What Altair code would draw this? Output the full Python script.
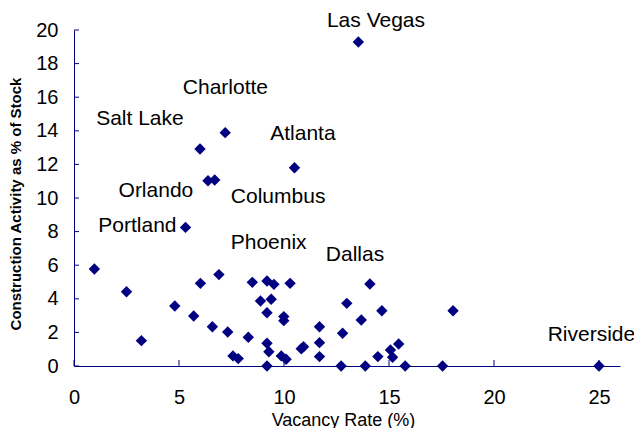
import altair as alt
import pandas as pd

# Scatter data: vacancy rate (%) and construction activity (% of stock)
vacancy = [0.97, 2.50, 3.21, 4.80, 5.70, 6.02, 6.90, 6.59, 7.32, 7.57, 7.82, 8.30,
           8.49, 8.88, 9.19, 9.52, 9.39, 9.19, 9.99, 9.99, 10.29, 9.19, 9.28, 9.19,
           9.87, 10.10, 10.82, 10.93, 11.69, 11.69, 11.69, 12.72, 12.79, 12.99, 13.68,
           14.09, 13.87, 14.47, 14.66, 15.07, 15.17, 15.46, 15.77, 17.55, 18.05, 25.0,
           13.54, 7.20, 6.00, 10.50, 6.38, 6.70, 5.31]
construction = [5.77, 4.42, 1.51, 3.57, 2.98, 4.92, 5.44, 2.34, 2.02, 0.60, 0.44, 1.71,
                4.98, 3.87, 5.06, 4.86, 3.97, 3.17, 2.94, 2.70, 4.92, 1.35, 0.85, 0.0,
                0.60, 0.40, 1.03, 1.15, 2.34, 1.39, 0.56, 0.0, 1.95, 3.73, 2.74,
                4.88, 0.0, 0.56, 3.29, 0.95, 0.52, 1.31, 0.0, 0.0, 3.29, 0.0,
                19.29, 13.89, 12.92, 11.80, 11.03, 11.07, 8.25]

# City labels (anchor positions in data units)
label_names = ["Las Vegas", "Charlotte", "Salt Lake", "Atlanta", "Orlando",
               "Columbus", "Portland", "Phoenix", "Dallas", "Riverside"]
label_x = [14.38, 7.21, 3.14, 10.90, 3.90, 9.72, 3.02, 9.27, 13.38, 24.64]
label_y = [20.20, 16.19, 14.35, 13.45, 10.04, 9.72, 7.99, 6.94, 6.27, 1.51]

x_ticks = [0, 5, 10, 15, 20, 25]
y_ticks = [0, 2, 4, 6, 8, 10, 12, 14, 16, 18, 20]

NAVY = "#000080"
FONT = "Liberation Sans"

pts = pd.DataFrame({"vacancy": vacancy, "construction": construction})
labels = pd.DataFrame({"name": label_names, "lx": label_x, "ly": label_y})
xt = pd.DataFrame({"t": x_ticks})
yt = pd.DataFrame({"t": y_ticks})

xscale = alt.Scale(domain=[0, 26], nice=False, zero=True)
yscale = alt.Scale(domain=[0, 20], nice=False, zero=True)

xaxis = alt.Axis(
    title="Vacancy Rate (%)", values=x_ticks, tickCount=30, format="d",
    labelPadding=21,
    titleFont=FONT, titleFontSize=18, titleFontWeight="normal", titleColor="black",
    titleX=269, titleY=59, titleBaseline="alphabetic", titleAlign="center",
)
yaxis = alt.Axis(
    title="Construction Activity as % of Stock", values=y_ticks, tickCount=30, format="d",
    labelPadding=16,
    titleFont=FONT, titleFontSize=15, titleFontWeight="bold", titleColor="black",
    titleX=-58.5, titleY=173.5, titleBaseline="middle", titleAlign="center",
)

points = alt.Chart(pts).mark_point(
    shape="diamond", filled=True, size=130, color=NAVY, opacity=1
).encode(
    x=alt.X("vacancy:Q", scale=xscale, axis=xaxis),
    y=alt.Y("construction:Q", scale=yscale, axis=yaxis),
)

xtick_layer = alt.Chart(xt).mark_tick(
    orient="vertical", size=6, thickness=1, color=NAVY, yOffset=-3, opacity=1
).encode(x=alt.X("t:Q", scale=xscale, axis=xaxis), y=alt.datum(0))

ytick_layer = alt.Chart(yt).mark_tick(
    orient="horizontal", size=5, thickness=1, color=NAVY, xOffset=2.5, opacity=1
).encode(y=alt.Y("t:Q", scale=yscale, axis=yaxis), x=alt.datum(0))

text_layer = alt.Chart(labels).mark_text(
    font=FONT, fontSize=21, color="black", align="center", baseline="alphabetic"
).encode(
    x=alt.X("lx:Q", scale=xscale, axis=xaxis),
    y=alt.Y("ly:Q", scale=yscale, axis=yaxis),
    text="name:N",
)

chart = alt.layer(points, xtick_layer, ytick_layer, text_layer).properties(
    width=546, height=336,
    padding={"left": 66, "top": 22, "right": 14, "bottom": 62},
    autosize=alt.AutoSizeParams(type="none"),
    background="white",
).configure_view(stroke=None).configure_axis(
    grid=False, ticks=False, domainColor=NAVY, domainWidth=1,
    labelFlush=False, labelOverlap=False, labelBound=False,
    labelFont=FONT, labelFontSize=20, labelColor="black",
)

chart.save("out.html", embed_options={"renderer": "svg", "actions": False})
